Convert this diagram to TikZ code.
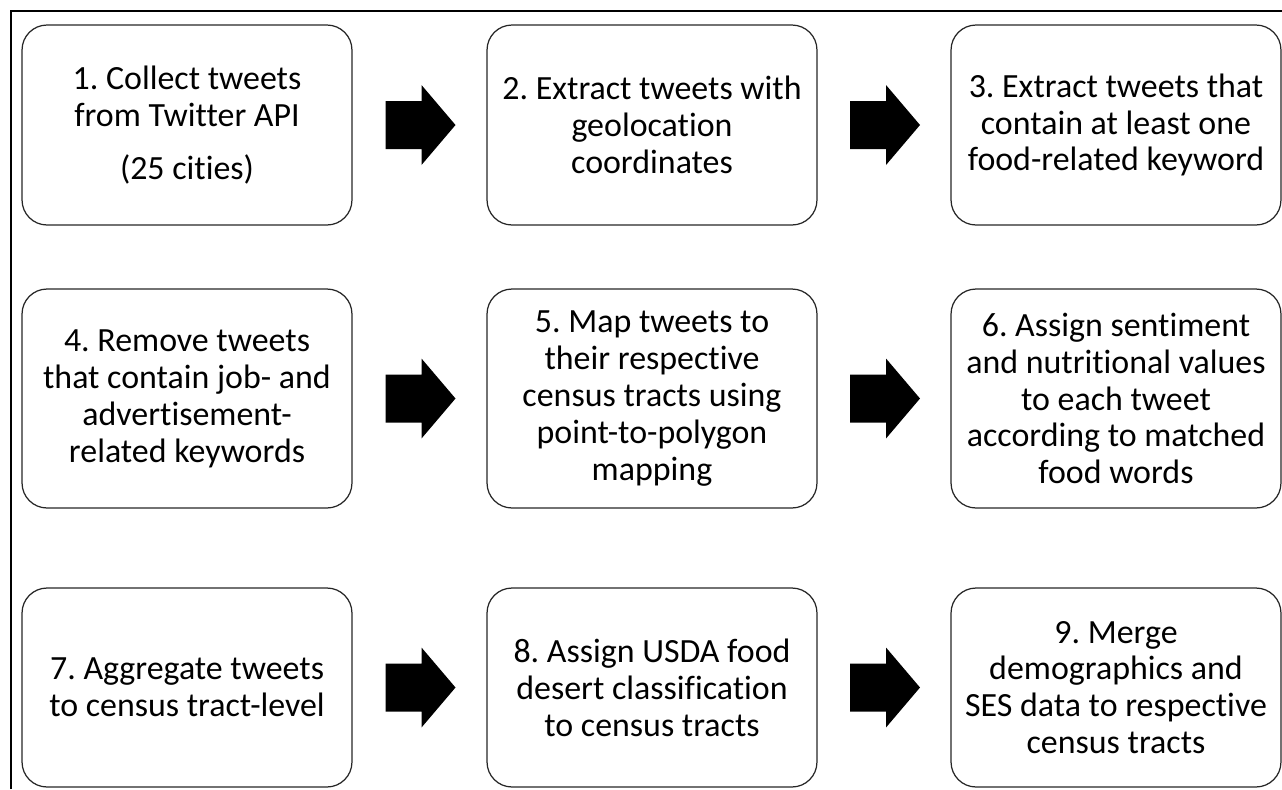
\documentclass[tikz,border=0pt]{standalone}
\usepackage{fontspec}
\setmainfont[Ligatures=NoCommon]{Carlito}
\usetikzlibrary{calc}
\tikzset{
  stepbox/.style={draw=black!85, line width=0.7pt, rounded corners=0.5cm, align=center,
    minimum width=6.6cm, inner sep=2pt, font=\fontsize{19.3}{21}\selectfont\frenchspacing},
}
\begin{document}
\begin{tikzpicture}[x=0.02cm, y=-0.02cm]
    \useasboundingbox (0,0) rectangle (1282,789);
    \draw[line width=1.2pt] (11,789) -- (11,11) -- (1282,11);
    \node[stepbox, minimum height=4cm] (s1) at (187,125) {1. Collect tweets\\from Twitter API\\[9pt](25 cities)};
    \node[stepbox, minimum height=4cm] (s2) at (652,125) {2. Extract tweets with\\geolocation\\coordinates};
    \node[stepbox, minimum height=4cm] (s3) at (1116,125) {3. Extract tweets that\\contain at least one\\food-related keyword};
    \node[stepbox, minimum height=4.38cm] (s4) at (187,398.5) {4. Remove tweets\\that contain job- and\\advertisement-\\related keywords};
    \node[stepbox, minimum height=4.38cm] (s5) at (652,398.5) {5. Map tweets to\\their respective\\census tracts using\\point-to-polygon\\mapping};
    \node[stepbox, minimum height=4.38cm] (s6) at (1116,398.5) {6. Assign sentiment\\and nutritional values\\to each tweet\\according to matched\\food words};
    \node[stepbox, minimum height=3.98cm] (s7) at (187,687.5) {7. Aggregate tweets\\to census tract-level};
    \node[stepbox, minimum height=3.98cm] (s8) at (652,687.5) {8. Assign USDA food\\desert classification\\to census tracts};
    \node[stepbox, minimum height=3.98cm] (s9) at (1116,687.5) {9. Merge\\demographics and\\SES data to respective\\census tracts};
    \foreach \a/\b in {s1/s2,s2/s3,s4/s5,s5/s6,s7/s8,s8/s9}
        \fill ($(\a.east)!0.5!(\b.west)$) ++(-34,-24) -- ++(36,0) -- ++(0,-16) -- ++(34,40)
            -- ++(-34,40) -- ++(0,-16) -- ++(-36,0) -- cycle;
\end{tikzpicture}
\end{document}
